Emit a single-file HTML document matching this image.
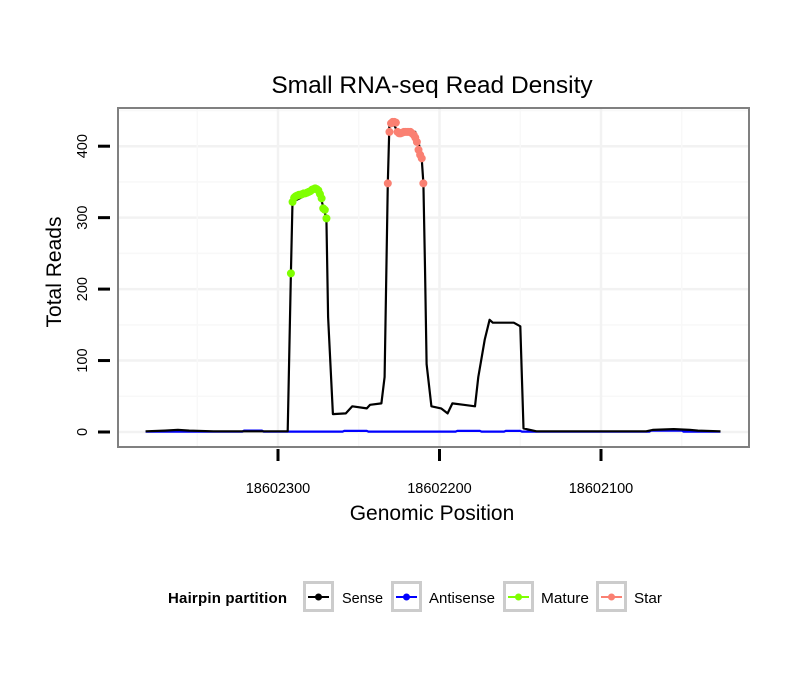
<!DOCTYPE html>
<html><head><meta charset="utf-8"><style>
body{margin:0;background:#fff;}
svg{font-family:"Liberation Sans",sans-serif;}
</style></head><body>
<svg id="chart" width="810" height="690" viewBox="0 0 810 690">
<text x="432" y="93" text-anchor="middle" font-size="24.5">Small RNA-seq Read Density</text>
<g id="grid"></g>
<g id="series"></g>
<rect x="118" y="108" width="631" height="339" fill="none" stroke="#808080" stroke-width="2"/>
<g id="axes"></g>
<text x="432" y="520" text-anchor="middle" font-size="21">Genomic Position</text>
<text transform="translate(61,272) rotate(-90)" text-anchor="middle" font-size="21">Total Reads</text>
<g>
<text x="168" y="603" font-size="15" font-weight="bold" textLength="119">Hairpin partition</text>
<g id="legend"></g>
<g id="legend-text"></g>
</g>
</svg>
<script>
const senseData=[[18602382,1],[18602370,2],[18602362,3],[18602355,2],[18602340,1],[18602294,1],[18602292,222],[18602291,322],[18602275,340],[18602270,299],[18602269,161],[18602266,25],[18602258,26],[18602254,36],[18602245,33],[18602243,38],[18602236,40],[18602234,77],[18602232,348],[18602231,430],[18602229,434],[18602226,420],[18602215,420],[18602213,406],[18602211,383],[18602210,348],[18602209,230],[18602208,95],[18602205,36],[18602199,33],[18602195,26],[18602192,40],[18602185,38],[18602178,36],[18602176,77],[18602174,103],[18602172,129],[18602169,157],[18602167,153],[18602154,153],[18602150,148],[18602148,5],[18602140,1],[18602072,1],[18602068,3],[18602055,4],[18602045,3],[18602040,2],[18602026,1]];
const antisenseData=[[18602382,0.5],[18602322,0.5],[18602321,2],[18602310,2],[18602309,0.5],[18602260,0.5],[18602259,1.5],[18602245,1.5],[18602244,0.5],[18602190,0.5],[18602189,1.5],[18602175,1.5],[18602174,0.5],[18602160,0.5],[18602159,1.5],[18602150,1.5],[18602149,0.5],[18602070,0.5],[18602069,2],[18602050,2],[18602049,0.5],[18602026,0.5]];
const maturePos=[18602292,18602291,18602290,18602289,18602288,18602287,18602286,18602285,18602284,18602283,18602282,18602281,18602280,18602279,18602278,18602277,18602276,18602275,18602274,18602273,18602272,18602271,18602270];
const matureVals=[222,322,328,330,331,332,332,333,334,334,335,336,337,339,340,341,340,338,333,327,313,311,299];
const starPos=[18602232,18602231,18602230,18602229,18602228,18602227,18602226,18602225,18602224,18602223,18602222,18602221,18602220,18602219,18602218,18602217,18602216,18602215,18602214,18602213,18602212,18602211,18602210];
const starVals=[348,420,432,434,434,433,420,418,418,419,420,420,420,420,420,418,416,412,406,395,388,383,348];
const xTicks=[18602300,18602200,18602100];
const yTicks=[0,100,200,300,400];

const NS="http://www.w3.org/2000/svg";
function X(p){return 278+(18602300-p)*1.615;}
function Y(v){return 432-v*0.7145;}
function mk(parent,tag,attrs){const e=document.createElementNS(NS,tag);for(const k in attrs)e.setAttribute(k,attrs[k]);document.getElementById(parent).appendChild(e);return e;}

for(let v=0;v<=450;v+=50){const l=mk('grid','line',{x1:119,x2:748,y1:Y(v),y2:Y(v),stroke:v%100===0?'#f2f2f2':'#f8f8f8','stroke-width':v%100===0?2.5:1.5});

}
for(let p=18602400;p>=18602000;p-=50){const x=X(p);if(x<119||x>748)continue;const l=mk('grid','line',{x1:x,x2:x,y1:109,y2:446,stroke:p%100===0?'#f2f2f2':'#f8f8f8','stroke-width':p%100===0?2.5:1.5});

}

yTicks.forEach(v=>{const t=mk('axes','line',{x1:98,x2:110,y1:Y(v),y2:Y(v),stroke:'#000','stroke-width':3});


const tx=mk('axes','text',{transform:`translate(87,${Y(v)}) rotate(-90)`,'text-anchor':'middle','font-size':14.5});
tx.textContent=v;

});
xTicks.forEach(p=>{const t=mk('axes','line',{x1:X(p),x2:X(p),y1:449,y2:461,stroke:'#000','stroke-width':3});


const tx=mk('axes','text',{x:X(p),y:493,'text-anchor':'middle','font-size':14.5});
tx.textContent=p;

});

function line(data,color,name){const d=data.map((q,i)=>(i?'L':'M')+X(q[0]).toFixed(1)+','+Y(q[1]).toFixed(1)).join('');
const p=mk('series','path',{d:d,fill:'none',stroke:color,'stroke-width':2.2,'stroke-linejoin':'round'});

}
line(antisenseData,'#0000ff','antisense-line');
line(senseData,'#000','sense-line');
function pts(pos,vals,color,name){pos.forEach((p,i)=>{const c=mk('series','circle',{cx:X(p),cy:Y(vals[i]),r:4,fill:color});

});}
pts(maturePos,matureVals,'#7fff00','mature-point');
pts(starPos,starVals,'#fa8072','star-point');

const leg=[['Sense','#000',303,342,41],['Antisense','#0000ff',391,429,66],['Mature','#7fff00',503,541,48],['Star','#fa8072',596,634,28]];
leg.forEach(e=>{const g=mk('legend','g',{});


const r=document.createElementNS(NS,'rect');r.setAttribute('x',e[2]+1.5);r.setAttribute('y',582.5);r.setAttribute('width',28);r.setAttribute('height',28);r.setAttribute('fill','#fff');r.setAttribute('stroke','#cccccc');r.setAttribute('stroke-width',3);g.appendChild(r);
const l=document.createElementNS(NS,'line');l.setAttribute('x1',e[2]+5);l.setAttribute('x2',e[2]+26);l.setAttribute('y1',597);l.setAttribute('y2',597);l.setAttribute('stroke',e[1]);l.setAttribute('stroke-width',2);g.appendChild(l);
const c=document.createElementNS(NS,'circle');c.setAttribute('cx',e[2]+15.5);c.setAttribute('cy',597);c.setAttribute('r',3.5);c.setAttribute('fill',e[1]);g.appendChild(c);
const t=mk('legend-text','text',{x:e[3],y:603,'font-size':15,textLength:e[4],lengthAdjust:'spacingAndGlyphs'});
t.textContent=e[0];

});
</script>
</body></html>
